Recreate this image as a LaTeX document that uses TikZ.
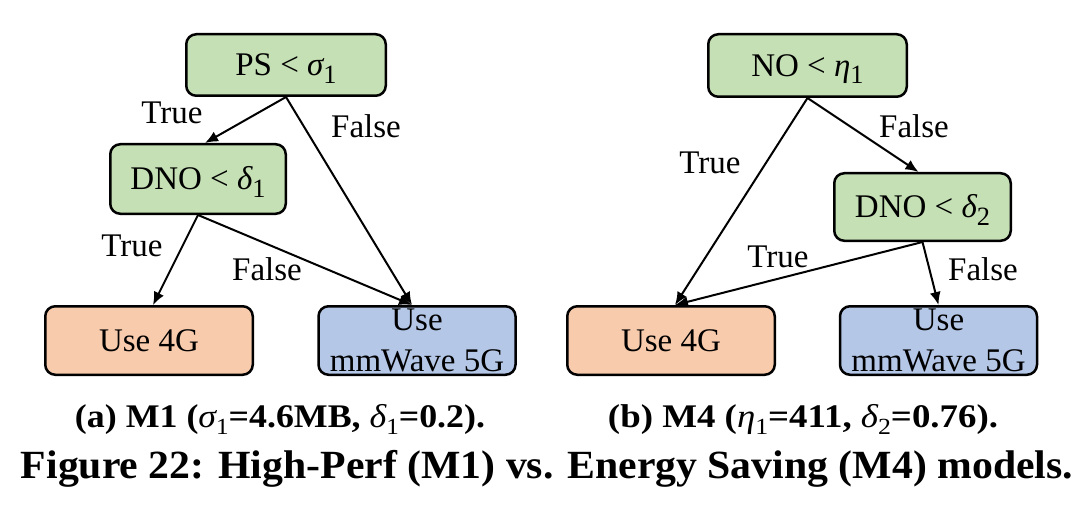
\documentclass[tikz,border=0pt]{standalone}
\usepackage{fontspec}
\setmainfont{Liberation Serif}
\usepackage{graphicx}
\usetikzlibrary{arrows.meta}
\definecolor{condfill}{HTML}{C5E0B4}
\definecolor{fourfill}{HTML}{F8CBAD}
\definecolor{fivefill}{HTML}{B4C7E7}
\newcommand\lsub[2][0.8]{\raisebox{-0.22em}{\scalebox{#1}{#2}}}
\begin{document}
\begin{tikzpicture}[x=1pt,y=-1pt,
  box/.style={draw=black, line width=2.5pt, rounded corners=10pt, inner sep=0pt,
    font=\fontsize{33}{41}\selectfont, align=center},
  one/.style={text height=21.5pt, text depth=0pt},
  condbox/.style={box, one, fill=condfill},
  fourbox/.style={box, one, fill=fourfill, minimum width=207.5pt, minimum height=68.5pt},
  fivebox/.style={box, fill=fivefill, minimum width=197pt, minimum height=68.5pt},
  lbl/.style={font=\fontsize{33}{41}\selectfont, text height=21.5pt, text depth=0pt, inner sep=0pt},
  arr/.style={line width=2pt, -{Latex[length=13pt,width=11pt]}},
  captext/.style={anchor=base, inner sep=0pt}]
\useasboundingbox (0,0) rectangle (1091,513);
\fill[white] (0,0) rectangle (1091,513);

% left tree
\node[condbox, minimum width=199.5pt, minimum height=61.5pt] (ps) at (286,65) {PS < {\itshape σ}\lsub{1}};
\node[condbox, minimum width=175.5pt, minimum height=69.5pt] (dnoa) at (198,179) {DNO < {\itshape δ}\lsub{1}};
\node[fourbox] (fourl) at (149,340.5) {Use 4G};
\node[fivebox] (fivel) at (417,340.5) {Use\\mmWave 5G};

\draw[arr] (ps.south) -- ([xshift=7pt]dnoa.north);
\draw[arr] (ps.south) -- ([xshift=-5pt]fivel.north);
\draw[arr] (dnoa.south) -- ([xshift=4pt]fourl.north);
\draw[arr] (dnoa.south) -- ([xshift=-5pt]fivel.north);

\node[lbl] (ta) at (172,113) {True};
\node[lbl] (fa) at (366,127) {False};
\node[lbl] (tb) at (132,246) {True};
\node[lbl] (fb) at (267,270) {False};

% right tree
\node[condbox, minimum width=198.5pt, minimum height=62.5pt] (no) at (807.5,65.5) {NO < {\itshape η}\lsub{1}};
\node[condbox, minimum width=176.5pt, minimum height=67.5pt] (dnob) at (922.5,207) {DNO < {\itshape δ}\lsub{2}};
\node[fourbox] (fourr) at (671,340.5) {Use 4G};
\node[fivebox] (fiver) at (938.5,340.5) {Use\\mmWave 5G};

\draw[arr] (no.south) -- ([xshift=4pt]fourr.north);
\draw[arr] (no.south) -- ([xshift=-4pt]dnob.north);
\draw[arr] (dnob.south) -- ([xshift=4pt]fourr.north);
\draw[arr] (dnob.south) -- (fiver.north);

\node[lbl] (tc) at (710,163) {True};
\node[lbl] (fc) at (914,127) {False};
\node[lbl] (td) at (778,257) {True};
\node[lbl] (fd) at (983,270) {False};

% captions
\node[captext] (capa) at (280,427) {\resizebox{410pt}{\height}{\fontsize{33}{40}\selectfont\bfseries (a) M1 ({\mdseries\itshape σ}\lsub[0.7]{\mdseries 1}=4.6MB, {\mdseries\itshape δ}\lsub[0.7]{\mdseries 1}=0.2).}};
\node[captext] (capb) at (803,427) {\resizebox{390pt}{\height}{\fontsize{33}{40}\selectfont\bfseries (b) M4 ({\mdseries\itshape η}\lsub[0.7]{\mdseries 1}=411, {\mdseries\itshape δ}\lsub[0.7]{\mdseries 2}=0.76).}};
\node[captext] (capfig) at (547,478) {\resizebox{1052pt}{\height}{\fontsize{40}{48}\selectfont\bfseries Figure 22: High-Perf (M1) vs. Energy Saving (M4) models.}};
\end{tikzpicture}
\end{document}
